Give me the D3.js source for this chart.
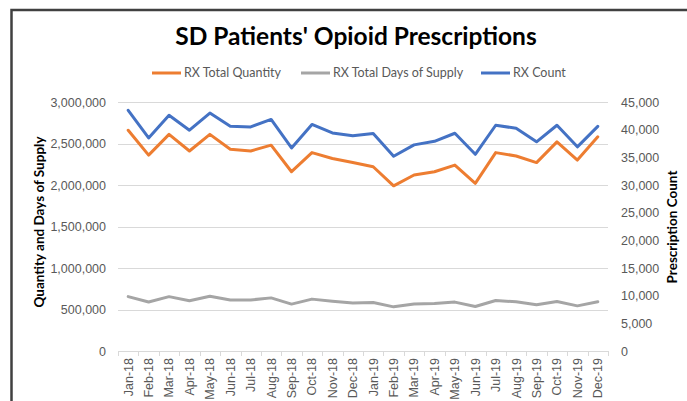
<!DOCTYPE html>
<html>
<head>
<meta charset="utf-8">
<script src="https://cdn.jsdelivr.net/npm/d3@7"></script>
<style>
  body { margin: 0; background: #fff; }
  svg { display: block; font-family: Lato, "Open Sans", sans-serif; }
</style>
</head>
<body>
<script>
(function () {
  "use strict";
  var w = 687, h = 401;

  var months = ["Jan-18","Feb-18","Mar-18","Apr-18","May-18","Jun-18","Jul-18","Aug-18","Sep-18","Oct-18","Nov-18","Dec-18",
                "Jan-19","Feb-19","Mar-19","Apr-19","May-19","Jun-19","Jul-19","Aug-19","Sep-19","Oct-19","Nov-19","Dec-19"];
  var totalQuantity = [2660000, 2360000, 2610000, 2410000, 2610000, 2430000, 2410000, 2480000, 2160000, 2390000, 2320000, 2270000,
                       2220000, 1990000, 2120000, 2160000, 2240000, 2020000, 2390000, 2350000, 2270000, 2520000, 2300000, 2580000];
  var totalDays = [655000, 590000, 655000, 605000, 660000, 615000, 615000, 640000, 565000, 625000, 600000, 577000,
                   584000, 532000, 565000, 572000, 589000, 536000, 608000, 593000, 556000, 596000, 544000, 593000];
  var rxCount = [43500, 38500, 42600, 39900, 43000, 40600, 40500, 41850, 36700, 40950, 39400, 38900,
                 39300, 35200, 37250, 37900, 39350, 35550, 40800, 40250, 37800, 40800, 36900, 40600];
  var leftTicks = [0, 500000, 1000000, 1500000, 2000000, 2500000, 3000000];
  var rightTicks = [0, 5000, 10000, 15000, 20000, 25000, 30000, 35000, 40000, 45000];

  var series = [
    { name: "RX Total Quantity", values: totalQuantity, axis: "left", color: "#ED7D31" },
    { name: "RX Total Days of Supply", values: totalDays, axis: "left", color: "#A5A5A5" },
    { name: "RX Count", values: rxCount, axis: "right", color: "#4472C4" }
  ];

  var plot = { left: 118, right: 608, top: 102, bottom: 351 };

  var svg = d3.select("body").append("svg")
              .attr("width", w)
              .attr("height", h);

  // outer frame (only left and top edges visible in the crop)
  svg.append("path")
     .attr("d", "M11.5," + h + "V10H" + w)
     .attr("fill", "none")
     .attr("stroke", "#404040")
     .attr("stroke-width", 2.5);

  var x = d3.scaleBand().domain(months).range([plot.left, plot.right]);
  var yL = d3.scaleLinear().domain([0, 3000000]).range([plot.bottom, plot.top]);
  var yR = d3.scaleLinear().domain([0, 45000]).range([plot.bottom, plot.top]);

  // gridlines
  svg.append("g").selectAll("line")
     .data(leftTicks.slice(1))
     .enter().append("line")
     .attr("x1", plot.left).attr("x2", plot.right)
     .attr("y1", d => Math.round(yL(d)) + 0.5)
     .attr("y2", d => Math.round(yL(d)) + 0.5)
     .attr("stroke", "#D9D9D9")
     .attr("stroke-width", 1);

  // left axis
  var gL = svg.append("g")
              .attr("transform", "translate(" + plot.left + ",0)")
              .call(d3.axisLeft(yL).tickValues(leftTicks).tickFormat(d3.format(",")).tickSize(0).tickPadding(12));
  gL.select(".domain").remove();
  gL.selectAll("text").attr("fill", "#595959").style("font-size", "12.5px");

  // right axis
  var gR = svg.append("g")
              .attr("transform", "translate(" + plot.right + ",0)")
              .call(d3.axisRight(yR).tickValues(rightTicks).tickFormat(d3.format(",")).tickSize(0).tickPadding(13));
  gR.select(".domain").remove();
  gR.selectAll("text").attr("fill", "#595959").style("font-size", "12.5px");

  // x axis
  var gX = svg.append("g")
              .attr("transform", "translate(0," + plot.bottom + ")")
              .call(d3.axisBottom(x).tickSize(0));
  gX.select(".domain").attr("stroke", "#D9D9D9");
  gX.selectAll(".bnd").data(d3.range(months.length + 1))
    .enter().append("line")
    .attr("class", "bnd")
    .attr("x1", i => Math.round(plot.left + i * x.step()) + 0.5)
    .attr("x2", i => Math.round(plot.left + i * x.step()) + 0.5)
    .attr("y1", 0).attr("y2", 5)
    .attr("stroke", "#D9D9D9");
  gX.selectAll(".tick text")
    .attr("fill", "#595959")
    .style("font-size", "12.5px")
    .attr("text-anchor", "end")
    .attr("transform", "rotate(-90)")
    .attr("x", -7)
    .attr("y", 0)
    .attr("dy", "0.35em");

  // lines
  series.forEach(function (s) {
    var y = s.axis === "left" ? yL : yR;
    var line = d3.line()
                 .x((d, i) => x(months[i]) + x.bandwidth() / 2)
                 .y(d => y(d));
    svg.append("path")
       .datum(s.values)
       .attr("d", line)
       .attr("fill", "none")
       .attr("stroke", s.color)
       .attr("stroke-width", 3)
       .attr("stroke-linejoin", "round")
       .attr("stroke-linecap", "round");
  });

  // title
  svg.append("text")
     .attr("x", 356)
     .attr("y", 45)
     .attr("text-anchor", "middle")
     .style("font-size", "24.5px")
     .style("font-weight", "bold")
     .attr("fill", "#000")
     .text("SD Patients' Opioid Prescriptions");

  // legend
  var legX = [152, 301, 481];
  var leg = svg.append("g").selectAll("g")
               .data(series)
               .enter().append("g")
               .attr("transform", (d, i) => "translate(" + legX[i] + ",73)");
  leg.append("line")
     .attr("x1", 0).attr("x2", 29)
     .attr("stroke", d => d.color)
     .attr("stroke-width", 3);
  leg.append("text")
     .attr("x", 32)
     .attr("dy", "0.35em")
     .attr("fill", "#595959")
     .style("font-size", "12.5px")
     .text(d => d.name);

  // axis titles
  svg.append("text")
     .attr("transform", "translate(44,222) rotate(-90)")
     .attr("text-anchor", "middle")
     .style("font-size", "13.5px")
     .style("font-weight", "bold")
     .attr("fill", "#000")
     .text("Quantity and Days of Supply");
  svg.append("text")
     .attr("transform", "translate(677,227) rotate(-90)")
     .attr("text-anchor", "middle")
     .style("font-size", "13.5px")
     .style("font-weight", "bold")
     .attr("fill", "#000")
     .text("Prescription Count");
})();
</script>
</body>
</html>
